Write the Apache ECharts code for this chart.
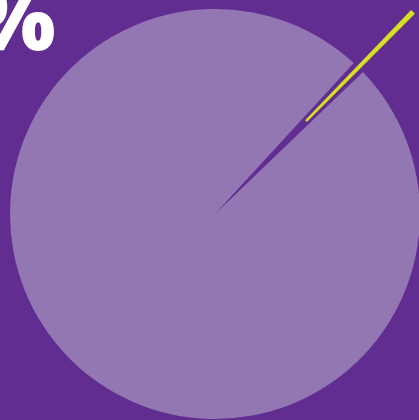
<!DOCTYPE html>
<html>
<head>
<meta charset="utf-8">
<script src="https://cdn.jsdelivr.net/npm/echarts@6/dist/echarts.min.js"></script>
<style>
  html, body { margin: 0; padding: 0; background: #622d91; }
  #main { width: 419px; height: 420px; }
</style>
</head>
<body>
<div id="main"></div>
<script>
var sliceNames = ['gap', 'rest'];
var sliceValues = [1, 99];
var markerNames = ['marker', 'rest'];
var markerValues = [0.3, 99.7];
var headline = '%';

// direction (degrees, counter-clockwise from east) the small slice points to
var midAngle = 45.6;

function startFor(values) {
    var total = values.reduce(function (a, b) { return a + b; }, 0);
    return midAngle + values[0] / total * 360 / 2;
}

var mainData = [];
for (var i = 0; i < sliceNames.length; i++) {
    mainData.push({
        name: sliceNames[i],
        value: sliceValues[i],
        itemStyle: { color: i === 0 ? '#622d91' : '#9277b3' }
    });
}
var markerData = [];
for (var j = 0; j < markerNames.length; j++) {
    markerData.push({
        name: markerNames[j],
        value: markerValues[j],
        itemStyle: { color: j === 0 ? '#d5e021' : 'rgba(0,0,0,0)' }
    });
}

var myChart = echarts.init(document.getElementById('main'));
myChart.setOption({
    backgroundColor: '#622d91',
    animation: false,
    graphic: [{
        type: 'text',
        left: -26,
        top: -18,
        style: {
            text: headline,
            fill: '#ffffff',
            font: '800 86px "Open Sans"'
        }
    }],
    series: [{
        type: 'pie',
        center: [215, 214],
        radius: [0, 205],
        startAngle: startFor(sliceValues),
        label: { show: false },
        labelLine: { show: false },
        emphasis: { disabled: true },
        data: mainData
    }, {
        type: 'pie',
        center: [215, 214],
        radius: [130, 283],
        startAngle: startFor(markerValues),
        label: { show: false },
        labelLine: { show: false },
        emphasis: { disabled: true },
        data: markerData
    }]
});
</script>
</body>
</html>
